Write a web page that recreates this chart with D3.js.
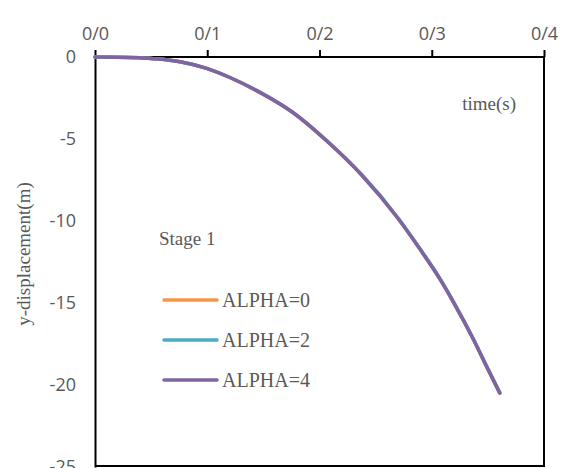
<!DOCTYPE html>
<html>
<head>
<meta charset="utf-8">
<script src="https://cdn.jsdelivr.net/npm/d3@7"></script>
<style>
  html, body { margin: 0; padding: 0; background: #fff; }
  svg { display: block; }
</style>
</head>
<body>
<svg id="chart" width="563" height="468"></svg>
<script>
// Vertical displacement of the body over time, one curve per ALPHA value
const time = [0, 0.02, 0.04, 0.06, 0.0757, 0.0995, 0.1202, 0.144, 0.1766, 0.2063, 0.2377, 0.2698, 0.2894, 0.307, 0.319, 0.337, 0.3487, 0.3606];
const alpha0 = [0, -0.01, -0.05, -0.14, -0.29, -0.69, -1.25, -2.05, -3.40, -5.10, -7.20, -9.82, -11.70, -13.50, -14.90, -17.20, -18.85, -20.48];
const alpha2 = [0, -0.01, -0.05, -0.14, -0.29, -0.69, -1.25, -2.04, -3.39, -5.09, -7.18, -9.80, -11.68, -13.48, -14.88, -17.18, -18.83, -20.46];
const alpha4 = [0, -0.01, -0.05, -0.14, -0.29, -0.69, -1.25, -2.05, -3.40, -5.11, -7.21, -9.83, -11.71, -13.51, -14.91, -17.21, -18.86, -20.50];
const seriesNames = ["ALPHA=0", "ALPHA=2", "ALPHA=4"];
const seriesColors = ["#F79646", "#4BACC6", "#8064A2"];
const xTicks = [0, 0.1, 0.2, 0.3, 0.4];
const xTickLabels = ["0/0", "0/1", "0/2", "0/3", "0/4"];
const yTicks = [0, -5, -10, -15, -20, -25];

const series = [alpha0, alpha2, alpha4].map((vals, i) => ({
  name: seriesNames[i],
  color: seriesColors[i],
  points: vals.map((v, j) => ({ t: time[j], y: v }))
}));

const svg = d3.select("#chart");
const plotLeft = 95, plotRight = 544, plotTop = 57, plotBottom = 467;

const x = d3.scaleLinear().domain([0, 0.4]).range([plotLeft, plotRight]);
const y = d3.scaleLinear().domain([0, -25]).range([plotTop, plotBottom]);

const tickFont = "'Open Sans', 'Noto Sans', sans-serif";
const serif = "'Liberation Serif', 'Times New Roman', serif";
const grey = "#595959";

// Plot frame: right and bottom edges
svg.append("line").attr("x1", plotRight).attr("x2", plotRight).attr("y1", plotTop).attr("y2", plotBottom)
  .attr("stroke", "#000").attr("stroke-width", 2);
svg.append("line").attr("x1", plotLeft).attr("x2", plotRight).attr("y1", plotBottom - 1).attr("y2", plotBottom - 1)
  .attr("stroke", "#000").attr("stroke-width", 2);

// Y axis (labels only, line on the left)
const yAxis = d3.axisLeft(y).tickValues(yTicks).tickSize(0).tickPadding(19).tickFormat(d3.format("d"));
const gy = svg.append("g").attr("transform", `translate(${plotLeft},0)`).call(yAxis);
gy.select(".domain").attr("stroke", "#000").attr("stroke-width", 2);
gy.selectAll("text").attr("font-family", tickFont).attr("font-size", 18).attr("fill", grey)
  .text(d => d === 0 ? "0" : "-" + Math.abs(d));

// X axis along the top
const xAxis = d3.axisTop(x).tickValues(xTicks).tickSize(7).tickPadding(10)
  .tickFormat((d, i) => xTickLabels[i]);
const gx = svg.append("g").attr("transform", `translate(0,${plotTop})`).call(xAxis);
gx.select(".domain").attr("stroke", "#000").attr("stroke-width", 2).attr("d", `M${plotLeft},0H${plotRight}`);
gx.selectAll(".tick line").attr("stroke", "#000").attr("stroke-width", 2);
gx.selectAll("text").attr("font-family", tickFont).attr("font-size", 18).attr("fill", grey);

// Curves
const line = d3.line().x(d => x(d.t)).y(d => y(d.y)).curve(d3.curveMonotoneX);
svg.append("g").selectAll("path").data(series).join("path")
  .attr("d", d => line(d.points))
  .attr("fill", "none")
  .attr("stroke", d => d.color)
  .attr("stroke-width", 3.5)
  .attr("stroke-linecap", "round");

// Axis titles and annotation
svg.append("text").attr("x", 516).attr("y", 110).attr("text-anchor", "end")
  .attr("font-family", serif).attr("font-size", 19).attr("fill", grey).text("time(s)");
svg.append("text").attr("transform", "translate(30,254) rotate(-90)").attr("text-anchor", "middle")
  .attr("font-family", serif).attr("font-size", 19).attr("fill", grey).text("y-displacement(m)");
svg.append("text").attr("x", 159).attr("y", 245)
  .attr("font-family", serif).attr("font-size", 19).attr("fill", grey).text("Stage 1");

// Legend
const legend = svg.append("g").selectAll("g").data(series).join("g")
  .attr("transform", (d, i) => `translate(164,${300 + i * 40})`);
legend.append("line").attr("x1", 0).attr("x2", 53).attr("y1", 0).attr("y2", 0)
  .attr("stroke", d => d.color).attr("stroke-width", 3.5).attr("stroke-linecap", "round");
legend.append("text").attr("x", 58).attr("y", 7)
  .attr("font-family", serif).attr("font-size", 20).attr("fill", grey).text(d => d.name);
</script>
</body>
</html>
